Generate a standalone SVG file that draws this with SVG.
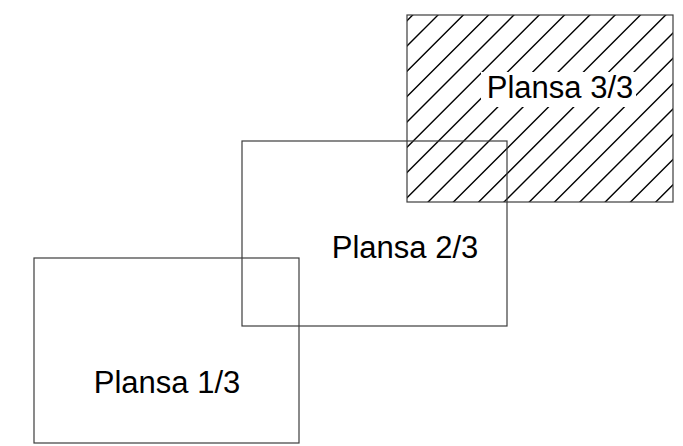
<svg xmlns="http://www.w3.org/2000/svg" width="683" height="446" viewBox="0 0 683 446">
<style>
.sheet{fill:none;stroke:#3c3c3c;stroke-width:1.2}
.hatch{stroke:#000;stroke-width:1.4;fill:none}
.lbl{font-family:"Liberation Sans",Arial,sans-serif;font-size:31px;fill:#000;text-anchor:middle}
</style>
<defs>
<clipPath id="c3"><rect x="407" y="15" width="266" height="187"/></clipPath>
</defs>
<rect width="683" height="446" fill="#fff"/>
<g id="sheet3">
<g class="hatch" clip-path="url(#c3)">
<path d="M207.7,220 L427.7,0 M233,220 L453,0 M258.3,220 L478.3,0 M283.6,220 L503.6,0 M308.9,220 L528.9,0 M334.2,220 L554.2,0 M359.5,220 L579.5,0 M384.8,220 L604.8,0 M410.1,220 L630.1,0 M435.4,220 L655.4,0 M460.7,220 L680.7,0 M486,220 L706,0 M511.3,220 L731.3,0 M536.6,220 L756.6,0 M561.9,220 L781.9,0 M587.2,220 L807.2,0 M612.5,220 L832.5,0 M637.8,220 L857.8,0 M663.1,220 L883.1,0"/>
</g>
<rect x="481" y="72" width="155" height="35" fill="#fff"/>
<rect class="sheet" x="407" y="15" width="266" height="187"/>
<text class="lbl" x="560" y="98">Plansa 3/3</text>
</g>
<g id="sheet2">
<rect class="sheet" x="242" y="141" width="265" height="185"/>
<text class="lbl" x="405" y="258">Plansa 2/3</text>
</g>
<g id="sheet1">
<rect class="sheet" x="34" y="258" width="265" height="185"/>
<text class="lbl" x="167" y="393">Plansa 1/3</text>
</g>
<g id="connectors"/>
</svg>
